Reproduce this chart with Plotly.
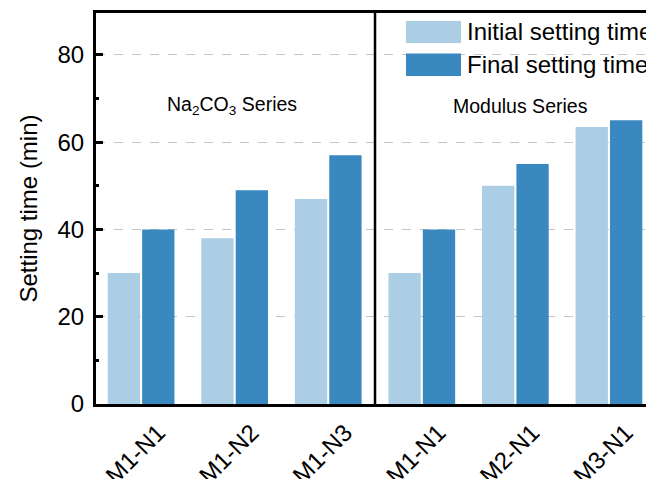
import plotly.graph_objects as go

categories = ["M1-N1", "M1-N2", "M1-N3", "M1-N1", "M2-N1", "M3-N1"]
initial_time = [30, 38, 47, 30, 50, 63.5]
final_time = [40, 49, 57, 40, 55, 65]
series_names = ["Initial setting time", "Final setting time"]
group_labels = ["Na<sub>2</sub>CO<sub>3</sub> Series", "Modulus Series"]
y_ticks = [0, 20, 40, 60, 80]

light = "#abcee4"
dark = "#3a88c0"
FONT = "Arial, Liberation Sans, sans-serif"

xpos = list(range(len(categories)))

fig = go.Figure()
fig.add_trace(go.Bar(x=xpos, y=initial_time, name=series_names[0],
                     marker=dict(color=light, line=dict(width=0))))
fig.add_trace(go.Bar(x=xpos, y=final_time, name=series_names[1],
                     marker=dict(color=dark, line=dict(width=0))))

fig.update_layout(
    width=646, height=479,
    margin=dict(l=96, r=0, t=13, b=75, autoexpand=False),
    paper_bgcolor="white", plot_bgcolor="white",
    barmode="group", bargap=0.265, bargroupgap=0.06,
    showlegend=False,
    font=dict(family=FONT, color="black"),
)

fig.update_xaxes(
    range=[-0.482, 5.396],
    automargin=False,
    tickvals=xpos, ticktext=categories, tickangle=-45,
    tickfont=dict(size=24, family=FONT),
    ticklabelshift=17, ticklabelstandoff=2,
    showline=True, linecolor="black", linewidth=3, mirror=True,
    showgrid=False, zeroline=False, ticks="",
)
fig.update_yaxes(
    range=[0, 89.6],
    automargin=False,
    tickvals=y_ticks,
    tickfont=dict(size=24, family=FONT),
    ticks="inside", ticklen=7, tickwidth=3, tickcolor="black",
    ticklabelstandoff=4,
    minor=dict(ticks="inside", ticklen=3, tickwidth=2.5, tickcolor="black", dtick=10, showgrid=False),
    showline=True, linecolor="black", linewidth=3, mirror=False,
    showgrid=True, gridcolor="#c4c4c4", gridwidth=1, griddash="dash",
    zeroline=False,
    title=dict(text="Setting time (min)", font=dict(size=24, family=FONT), standoff=14),
)

# divider between the two series groups
fig.add_shape(type="line", xref="x", yref="paper", x0=2.5, x1=2.5, y0=0, y1=1,
              line=dict(color="black", width=2.5))

# group annotations
fig.add_annotation(x=0.969, y=68.3, xref="x", yref="y", text=group_labels[0],
                   showarrow=False, font=dict(size=19.5, family=FONT))
fig.add_annotation(x=4.057, y=68.3, xref="x", yref="y", text=group_labels[1],
                   showarrow=False, font=dict(size=19.5, family=FONT))

# custom legend (large swatches)
pw = 550.0
ph = 391.0
def px_x(p):
    return (p - 96) / pw
def px_y(p):
    return (404 - p) / ph

legend_rows = [(series_names[0], light, 21, 43), (series_names[1], dark, 53.5, 76)]
for name, col, ytop, ybot in legend_rows:
    fig.add_shape(type="rect", xref="paper", yref="paper",
                  x0=px_x(406), x1=px_x(461), y0=px_y(ybot), y1=px_y(ytop),
                  fillcolor=col, line=dict(width=0))
    fig.add_annotation(xref="paper", yref="paper", x=px_x(465), y=px_y((ytop + ybot) / 2),
                       xanchor="left", yanchor="middle", text=name, showarrow=False,
                       font=dict(size=24, family=FONT))

post = ("document.body.style.margin='0';document.body.style.padding='0';"
        "document.body.style.overflow='hidden';"
        "document.documentElement.style.overflow='hidden';")
fig.write_html("out.html", post_script=post, config={"displayModeBar": False})
